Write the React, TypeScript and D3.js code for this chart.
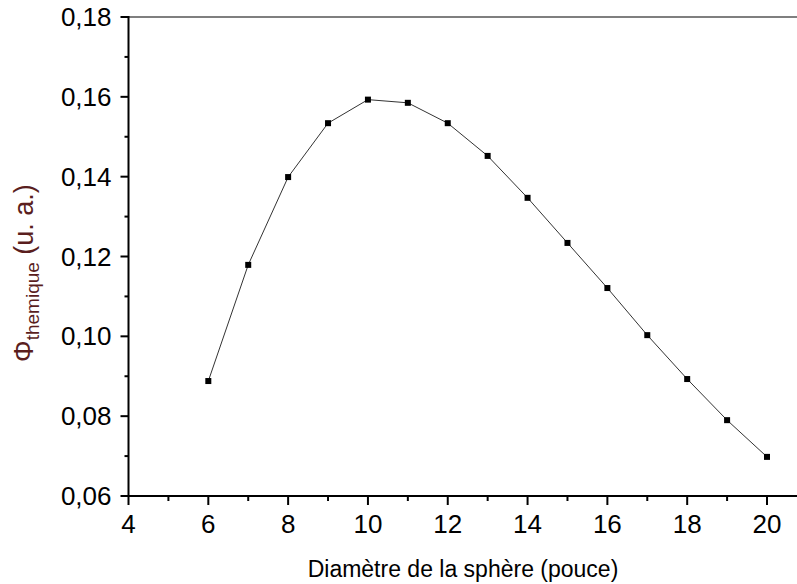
import React from "react";
import * as d3 from "d3";

const diameters = [6, 7, 8, 9, 10, 11, 12, 13, 14, 15, 16, 17, 18, 19, 20];
const phiValues = [0.0888, 0.1179, 0.1399, 0.1534, 0.1593, 0.1585, 0.1534, 0.1452, 0.1347, 0.1234, 0.1121, 0.1003, 0.0893, 0.079, 0.0698];
const xTicks = [4, 6, 8, 10, 12, 14, 16, 18, 20];
const xMinor = [5, 7, 9, 11, 13, 15, 17, 19];
const yTicks = [0.06, 0.08, 0.1, 0.12, 0.14, 0.16, 0.18];
const yMinor = [0.07, 0.09, 0.11, 0.13, 0.15, 0.17];

const W = 797, H = 584;
const font = "'Liberation Sans', Arial, sans-serif";

export default function App() {
  const x = d3.scaleLinear().domain([4, 20]).range([128.5, 767]);
  const y = d3.scaleLinear().domain([0.06, 0.18]).range([496, 17]);
  const line = d3.line<number>().x((_, i) => x(diameters[i])).y((d) => y(d));
  const fmt = (v: number) => v.toFixed(2).replace(".", ",");
  const x0 = x(4), yb = y(0.06), yt = y(0.18);
  return (
    <svg width={W} height={H} style={{ position: "absolute", left: 0, top: 0, background: "#fff" }}>
      <rect width={W} height={H} fill="#fff" />
      <line x1={x0} x2={W} y1={yt} y2={yt} stroke="#555" strokeWidth={1.5} />
      <path d={line(phiValues) || ""} fill="none" stroke="#333" strokeWidth={1} />
      {phiValues.map((v, i) => (
        <rect key={i} x={x(diameters[i]) - 3} y={y(v) - 3} width={6} height={6} fill="#000" />
      ))}
      <line x1={x0} x2={x0} y1={yt - 1} y2={yb + 1} stroke="#000" strokeWidth={2} />
      <line x1={x0 - 1} x2={W} y1={yb} y2={yb} stroke="#000" strokeWidth={2} />
      {yTicks.map((t) => (
        <g key={"y" + t}>
          <line x1={x0 - 8} x2={x0} y1={y(t)} y2={y(t)} stroke="#000" strokeWidth={2} />
          <text x={x0 - 17} y={y(t) + 9} textAnchor="end" fontFamily={font} fontSize={26} fill="#000">{fmt(t)}</text>
        </g>
      ))}
      {yMinor.map((t) => (
        <line key={"ym" + t} x1={x0 - 4} x2={x0} y1={y(t)} y2={y(t)} stroke="#000" strokeWidth={2} />
      ))}
      {xTicks.map((t) => (
        <g key={"x" + t}>
          <line x1={x(t)} x2={x(t)} y1={yb} y2={yb + 9} stroke="#000" strokeWidth={2} />
          <text x={x(t)} y={533} textAnchor="middle" fontFamily={font} fontSize={26} fill="#000">{t}</text>
        </g>
      ))}
      {xMinor.map((t) => (
        <line key={"xm" + t} x1={x(t)} x2={x(t)} y1={yb} y2={yb + 5} stroke="#000" strokeWidth={2} />
      ))}
      <text x={463} y={577} textAnchor="middle" fontFamily={font} fontSize={23} fill="#000">Diamètre de la sphère (pouce)</text>
      <text transform={`translate(33, 273) rotate(-90)`} textAnchor="middle" fontFamily={font} fontSize={27} fill="#5a1e1e">
        Φ<tspan fontSize={19} dy={6}>themique</tspan><tspan dy={-6}> (u. a.)</tspan>
      </text>
    </svg>
  );
}
